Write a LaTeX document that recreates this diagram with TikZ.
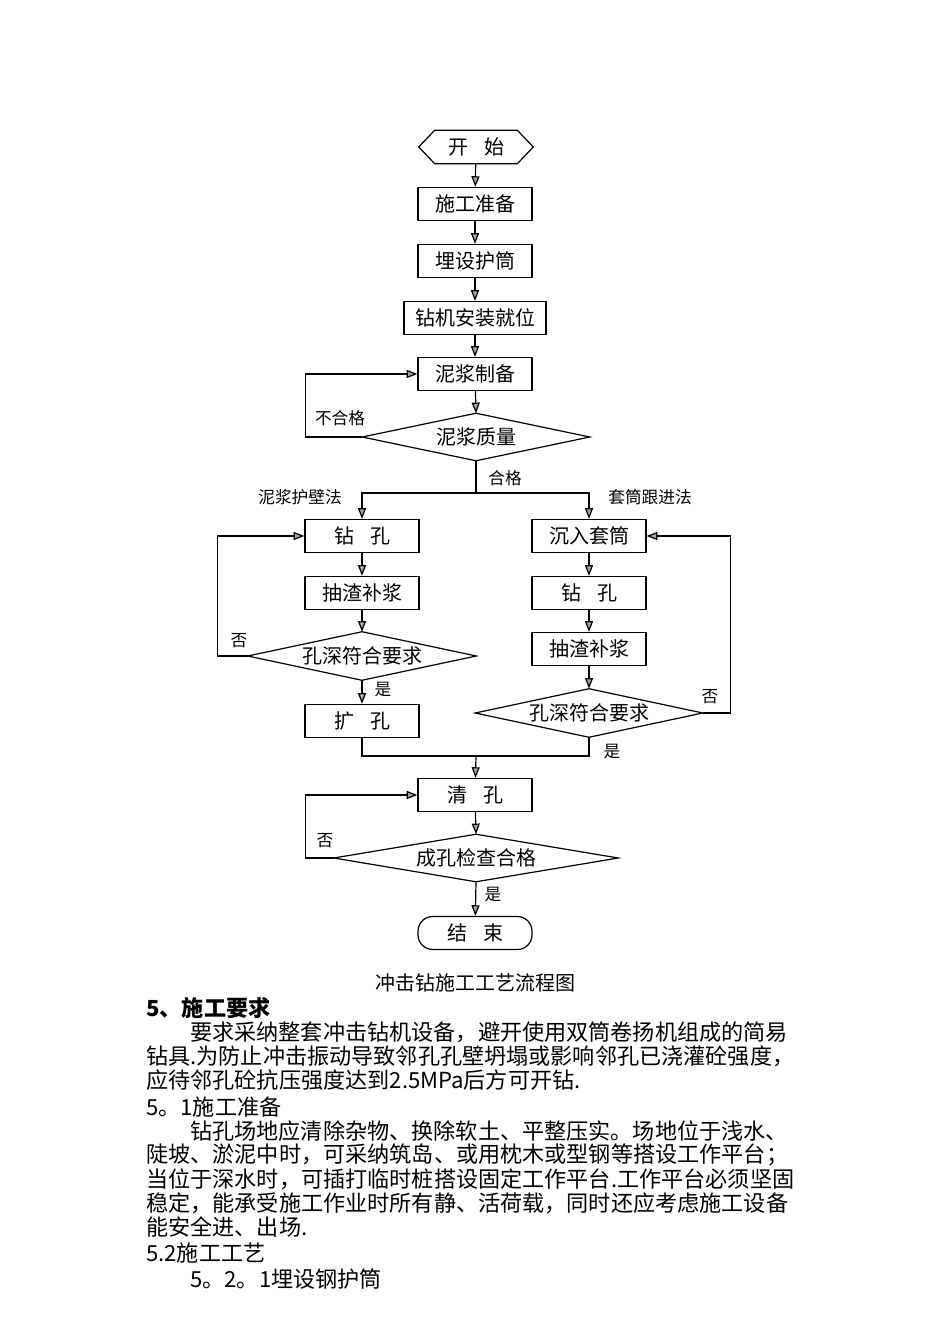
\documentclass[tikz,border=0pt]{standalone}
\usepackage{fontspec}
\setmainfont{Liberation Serif}
\newfontfamily\cjk{Noto Sans CJK SC}
\usetikzlibrary{arrows.meta}
\newdimen\pxu \pxu=0.75pt
\begin{document}
\begin{tikzpicture}[x=\pxu,y=-\pxu,
  every node/.style={font=\cjk\fontsize{15}{15}\selectfont},
  box/.style={draw, line width=0.9pt, minimum width=114\pxu, minimum height=33\pxu, inner sep=0pt},
  ghost/.style={minimum width=#1, inner sep=0pt},
  lbl/.style={font=\cjk\fontsize{12.5}{12.5}\selectfont, inner sep=1pt},
  txt/.style={anchor=west, inner sep=0pt, font=\cjk\fontsize{16.6}{16.6}\selectfont},
  arr/.style={line width=0.9pt, -{Triangle[length=8pt,width=6pt,fill=gray!70]}},
  ln/.style={line width=0.9pt}]
\useasboundingbox (0,0) rectangle (950,1344);
% nodes
\node[ghost=114\pxu, minimum height=33\pxu] (start) at (476,147) {开\hspace{0.8em}始};
\draw[ln] (start.west) -- ([xshift=12pt]start.north west) -- ([xshift=-12pt]start.north east) -- (start.east) -- ([xshift=-12pt]start.south east) -- ([xshift=12pt]start.south west) -- cycle;
\node[box] (prep) at (475,204) {施工准备};
\node[box] (bury) at (475,261) {埋设护筒};
\node[box, minimum width=142\pxu] (rig) at (475,318) {钻机安装就位};
\node[box] (mud) at (475,374) {泥浆制备};
\node[ghost=227\pxu, minimum height=47\pxu] (q) at (476,437) {泥浆质量};
\draw[ln] (q.west) -- (q.north) -- (q.east) -- (q.south) -- cycle;

\node[box] (L1) at (362,536) {钻\hspace{0.8em}孔};
\node[box] (L2) at (362,593) {抽渣补浆};
\node[ghost=228\pxu, minimum height=48\pxu] (Ld) at (362,656) {孔深符合要求};
\draw[ln] (Ld.west) -- (Ld.north) -- (Ld.east) -- (Ld.south) -- cycle;
\node[box] (L4) at (362,721) {扩\hspace{0.8em}孔};

\node[box] (R1) at (589,536) {沉入套筒};
\node[box] (R2) at (589,593) {钻\hspace{0.8em}孔};
\node[box] (R3) at (589,649) {抽渣补浆};
\node[ghost=227\pxu, minimum height=48\pxu] (Rd) at (589,713) {孔深符合要求};
\draw[ln] (Rd.west) -- (Rd.north) -- (Rd.east) -- (Rd.south) -- cycle;

\node[box] (clean) at (475,795) {清\hspace{0.8em}孔};
\node[ghost=284\pxu, minimum height=47\pxu] (Cd) at (476,858) {成孔检查合格};
\draw[ln] (Cd.west) -- (Cd.north) -- (Cd.east) -- (Cd.south) -- cycle;
\node[box, rounded corners=11pt] (fin) at (475,933) {结\hspace{0.8em}束};

\coordinate (split) at (476,493);
\coordinate (merge) at (476,756);

% connectors
\draw[arr] (start) -- (prep);
\draw[arr] (prep) -- (bury);
\draw[arr] (bury) -- (rig);
\draw[arr] (rig) -- (mud);
\draw[arr] (mud) -- (q.north);
\draw[arr] (q.west) -- ++(-57,0) |- (mud.west);
\draw[ln] (q.south) -- (split);
\draw[arr] (split) -| (L1.north);
\draw[arr] (split) -| (R1.north);
\draw[arr] (L1) -- (L2);
\draw[arr] (L2) -- (Ld.north);
\draw[arr] (Ld.west) -- ++(-30,0) |- (L1.west);
\draw[arr] (Ld.south) -- (L4);
\draw[arr] (R1) -- (R2);
\draw[arr] (R2) -- (R3);
\draw[arr] (R3) -- (Rd.north);
\draw[arr] (Rd.east) -- ++(28,0) |- (R1.east);
\draw[ln] (L4.south) |- (merge);
\draw[ln] (Rd.south) |- (merge);
\draw[arr] (merge) -- (clean);
\draw[arr] (clean) -- (Cd.north);
\draw[arr] (Cd.west) -- ++(-28,0) |- (clean.west);
\draw[arr] (Cd.south) -- (fin);

% labels
\node[lbl] (l1) at (340,418) {不合格};
\node[lbl] (l2) at (505,478) {合格};
\node[lbl] (l3) at (300,497) {泥浆护壁法};
\node[lbl] (l4) at (650,497) {套筒跟进法};
\node[lbl] (l5) at (239,641) {否};
\node[lbl] (l6) at (383,690) {是};
\node[lbl] (l7) at (710,697) {否};
\node[lbl] (l8) at (612,752) {是};
\node[lbl] (l9) at (325,841) {否};
\node[lbl] (l10) at (493,895) {是};

\node[font=\cjk\fontsize{15}{15}\selectfont] (cap) at (475,983) {冲击钻施工工艺流程图};

% body text
\node[txt, font=\cjk\bfseries\fontsize{16.6}{16.6}\selectfont] (t0) at (146,1008) {5、施工要求};
\node[txt] (t1) at (190,1032) {要求采纳整套冲击钻机设备，避开使用双筒卷扬机组成的简易};
\node[txt] (t2) at (146,1056) {钻具.为防止冲击振动导致邻孔孔壁坍塌或影响邻孔已浇灌砼强度，};
\node[txt] (t3) at (146,1080) {应待邻孔砼抗压强度达到2.5MPa后方可开钻.};
\node[txt] (t4) at (146,1107) {5。1施工准备};
\node[txt] (t5) at (190,1131) {钻孔场地应清除杂物、换除软土、平整压实。场地位于浅水、};
\node[txt] (t6) at (146,1155) {陡坡、淤泥中时，可采纳筑岛、或用枕木或型钢等搭设工作平台；};
\node[txt] (t7) at (146,1179) {当位于深水时，可插打临时桩搭设固定工作平台.工作平台必须坚固};
\node[txt] (t8) at (146,1203) {稳定，能承受施工作业时所有静、活荷载，同时还应考虑施工设备};
\node[txt] (t9) at (146,1227) {能安全进、出场.};
\node[txt] (t10) at (146,1253) {5.2施工工艺};
\node[txt] (t11) at (190,1279) {5。2。1埋设钢护筒};
\end{tikzpicture}
\end{document}
